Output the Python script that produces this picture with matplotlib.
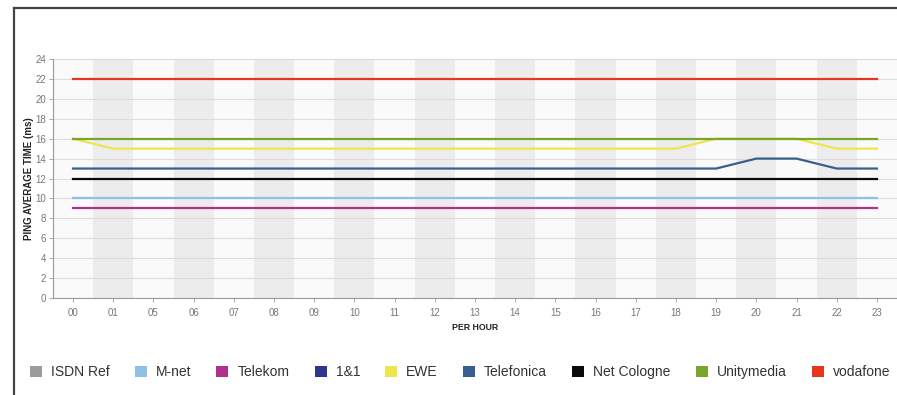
import matplotlib
matplotlib.use('Agg')
import matplotlib.pyplot as plt
from matplotlib.lines import Line2D
from matplotlib.patches import Patch

plt.rcParams['font.family'] = ['Liberation Sans', 'DejaVu Sans']

# hours shown on the x axis (02-04 missing in the source)
hours = ['00', '01', '05', '06', '07', '08', '09', '10', '11', '12', '13',
         '14', '15', '16', '17', '18', '19', '20', '21', '22', '23']

# ping average time (ms) per provider
isdn_ref = []
m_net = [10] * 21
telekom = [9] * 21
eins_und_eins = []
ewe = [16] + [15] * 15 + [16, 16, 16, 15, 15]
telefonica = [13] * 17 + [14, 14, 13, 13]
net_cologne = [12] * 21
unitymedia = [16] * 21
vodafone = [22] * 21

providers = ['ISDN Ref', 'M-net', 'Telekom', '1&1', 'EWE', 'Telefonica',
             'Net Cologne', 'Unitymedia', 'vodafone']
series = [isdn_ref, m_net, telekom, eins_und_eins, ewe, telefonica,
          net_cologne, unitymedia, vodafone]
colors = ['#9b9b9b', '#8ec1ea', '#b2308c', '#2c368c', '#ece64c', '#37608f',
          '#0a0a0a', '#79a52a', '#e6361e']

fig = plt.figure(figsize=(8.97, 3.95), dpi=100)
ax = fig.add_axes([0.059, 0.2456, 0.941, 0.605])

x = list(range(len(hours)))
for i in x:
    if i % 2 == 1:
        ax.axvspan(i - 0.5, i + 0.5, color='#ececec', lw=0, zorder=0)
    else:
        ax.axvspan(i - 0.5, i + 0.5, color='#fafafa', lw=0, zorder=0)

for name, vals, c in zip(providers, series, colors):
    ax.plot(x[:len(vals)], vals, color=c, lw=1.6, label=name, zorder=3)

ax.set_xlim(-0.5, len(hours) - 0.5)
ax.set_ylim(0, 24)
ax.set_yticks(range(0, 25, 2))
ax.set_xticks(x)
ax.set_xticklabels(hours)
ax.grid(axis='y', color='#dcdcdc', lw=0.8, zorder=1)
ax.set_axisbelow(True)

for s in ['top', 'right']:
    ax.spines[s].set_visible(False)
for s in ['left', 'bottom']:
    ax.spines[s].set_color('#9a9a9a')
    ax.spines[s].set_linewidth(0.8)
ax.tick_params(axis='both', colors='#9a9a9a', labelcolor='#777777',
               labelsize=7, length=3, width=0.6)
ax.tick_params(axis='x', pad=4)
ax.tick_params(axis='y', pad=2)

ax.set_ylabel('PING AVERAGE TIME (ms)', fontsize=7, fontweight='bold',
              color='#222222', labelpad=1)
ax.set_xlabel('PER HOUR', fontsize=6.3, fontweight='bold', color='#222222',
              labelpad=4)

handles = [Patch(facecolor=c, edgecolor='none') for c in colors]
fig.legend(handles, providers, loc='center left', bbox_to_anchor=(0.033, 0.058),
           ncol=9, frameon=False, fontsize=10, handlelength=0.86,
           handleheight=0.86, handletextpad=0.65, columnspacing=1.82,
           labelcolor='#333333', borderpad=0, borderaxespad=0)

# page frame (top and left rules)
fig.add_artist(Line2D([0.0156, 1.0], [0.98, 0.98], color='#444444', lw=1.6,
                      transform=fig.transFigure))
fig.add_artist(Line2D([0.0156, 0.0156], [0.0, 0.98], color='#444444', lw=1.6,
                      transform=fig.transFigure))

fig.savefig('out.png', dpi=100)
